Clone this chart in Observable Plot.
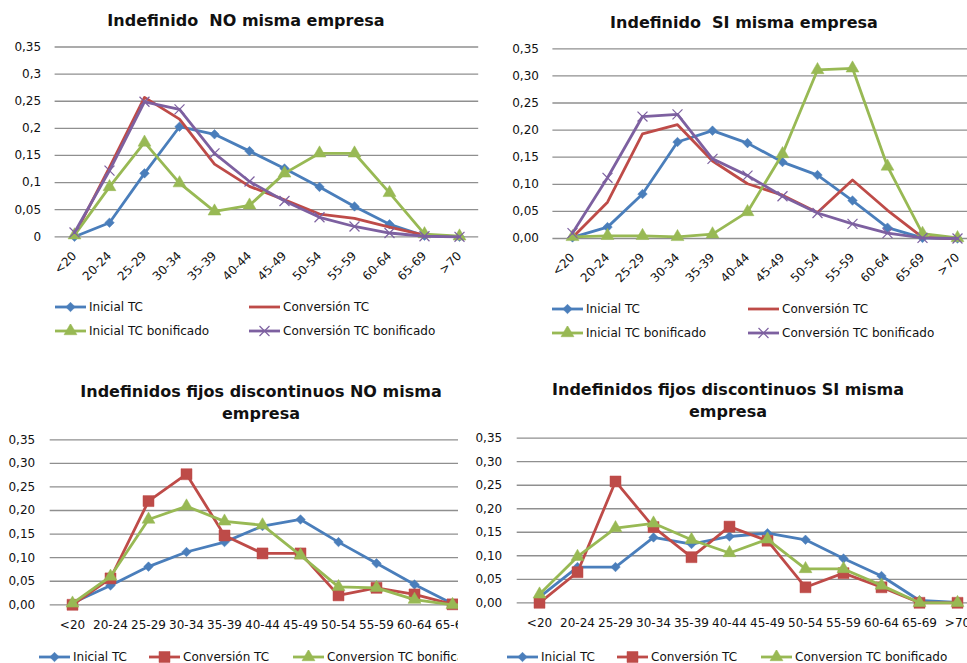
<!DOCTYPE html>
<html><head><meta charset="utf-8">
<script src="https://cdn.jsdelivr.net/npm/d3@7"></script>
<script src="https://cdn.jsdelivr.net/npm/@observablehq/plot@0.6"></script>
<style>
body{margin:0;background:#fff;font-family:"DejaVu Sans",Verdana,sans-serif;color:#111;}
#root{position:relative;width:967px;height:663px;overflow:hidden;background:#fff;}
.panel{position:absolute;overflow:hidden;}
.panel > svg{position:absolute;max-width:none !important;}
.title{position:absolute;font-weight:bold;font-size:16px;text-align:center;line-height:21.6px;white-space:nowrap;}
.leg{position:absolute;display:flex;align-items:center;height:14px;font-size:12px;white-space:nowrap;}
.leg svg{position:static;margin-right:3px;}
</style></head><body><div id="root"></div>
<script>
// ---------- data ----------
const ageGroups = ["<20","20-24","25-29","30-34","35-39","40-44","45-49","50-54","55-59","60-64","65-69",">70"];
const yTickValues = [0, 0.05, 0.10, 0.15, 0.20, 0.25, 0.30, 0.35];
const yTickLabelsGeneral = ["0","0,05","0,1","0,15","0,2","0,25","0,3","0,35"];
const yTickLabelsFixed = ["0,00","0,05","0,10","0,15","0,20","0,25","0,30","0,35"];

const titleP1 = "Indefinido\u00a0 NO misma empresa";
const titleP2 = "Indefinido\u00a0 SI misma empresa";
const titleP3 = ["Indefinidos fijos discontinuos NO misma", "empresa"];
const titleP4 = ["Indefinidos fijos discontinuos SI misma", "empresa"];

const namesTop = ["Inicial TC", "Conversión TC", "Inicial TC bonificado", "Conversión TC bonificado"];
const namesBottom = ["Inicial TC", "Conversión TC", "Conversion TC bonificado"];

// Indefinido NO misma empresa
const p1InicialTC       = [0.000, 0.026, 0.117, 0.203, 0.189, 0.158, 0.126, 0.092, 0.056, 0.023, 0.002, 0.000];
const p1ConversionTC    = [0.003, 0.128, 0.257, 0.217, 0.134, 0.093, 0.068, 0.042, 0.034, 0.018, 0.003, 0.000];
const p1InicialBonif    = [0.003, 0.092, 0.174, 0.099, 0.047, 0.058, 0.117, 0.154, 0.154, 0.081, 0.005, 0.001];
const p1ConversionBonif = [0.008, 0.122, 0.249, 0.235, 0.154, 0.102, 0.066, 0.036, 0.019, 0.007, 0.001, 0.000];

// Indefinido SI misma empresa
const p2InicialTC       = [0.002, 0.021, 0.082, 0.178, 0.199, 0.176, 0.141, 0.117, 0.070, 0.020, 0.001, 0.000];
const p2ConversionTC    = [0.002, 0.067, 0.193, 0.210, 0.143, 0.101, 0.080, 0.048, 0.108, 0.052, 0.002, 0.000];
const p2InicialBonif    = [0.003, 0.005, 0.005, 0.003, 0.008, 0.049, 0.156, 0.311, 0.314, 0.133, 0.009, 0.001];
const p2ConversionBonif = [0.010, 0.112, 0.225, 0.229, 0.147, 0.116, 0.078, 0.047, 0.027, 0.010, 0.001, 0.000];

// Indefinidos fijos discontinuos NO misma empresa
const p3InicialTC       = [0.004, 0.041, 0.081, 0.112, 0.133, 0.167, 0.181, 0.133, 0.088, 0.043, 0.002, 0.000];
const p3ConversionTC    = [0.000, 0.056, 0.220, 0.277, 0.147, 0.109, 0.109, 0.020, 0.036, 0.022, 0.001, 0.000];
const p3ConversionBonif = [0.003, 0.060, 0.181, 0.209, 0.177, 0.169, 0.105, 0.038, 0.036, 0.011, 0.000, 0.000];

// Indefinidos fijos discontinuos SI misma empresa
const p4InicialTC       = [0.012, 0.076, 0.076, 0.139, 0.125, 0.141, 0.148, 0.134, 0.094, 0.057, 0.005, 0.001];
const p4ConversionTC    = [0.000, 0.065, 0.258, 0.161, 0.097, 0.162, 0.132, 0.033, 0.063, 0.033, 0.000, 0.000];
const p4ConversionBonif = [0.018, 0.098, 0.159, 0.169, 0.134, 0.106, 0.135, 0.072, 0.072, 0.037, 0.000, 0.000];

// ---------- styles ----------
const BLUE = "#4A7EBB", RED = "#BE4B48", GREEN = "#98B954", PURPLE = "#7D60A0";
const stBlue   = {color: BLUE, symbol: "diamond2", r: 4.3};
const stRedTop = {color: RED, symbol: null};
const stRedSq  = {color: RED, symbol: "square", r: 6.2};
const stGreen  = {color: GREEN, symbol: "triangle", r: 4.8};
const stPurple = {color: PURPLE, symbol: "times", r: 4.6};
const GRID = "#8f8f8f";
const FONT = "'DejaVu Sans', Verdana, sans-serif";

const root = document.getElementById("root");

function makePanel(cfg) {
  const box = document.createElement("div");
  box.className = "panel";
  Object.assign(box.style, {left: cfg.box[0] + "px", top: cfg.box[1] + "px", width: cfg.box[2] + "px", height: cfg.box[3] + "px"});
  root.appendChild(box);

  // title
  const t = document.createElement("div");
  t.className = "title";
  t.innerHTML = [].concat(cfg.title).join("<br>");
  t.style.left = (cfg.titleCx - cfg.box[0] - 250) + "px";
  t.style.width = "500px";
  t.style.top = (cfg.titleTop - cfg.box[1]) + "px";
  box.appendChild(t);

  // plot
  const marks = [
    Plot.ruleY(yTickValues, {stroke: GRID, strokeWidth: 1.3}),
    Plot.axisY({ticks: yTickValues, tickFormat: d => cfg.yLabels[Math.round(d * 20)], tickSize: 0, tickPadding: cfg.padY, label: null}),
    Plot.axisX({tickSize: 0, tickRotate: cfg.rotate, tickPadding: cfg.padX, label: null})
  ];
  cfg.series.forEach(s => {
    const rows = s.values.map((v, i) => ({age: ageGroups[i], value: v}));
    marks.push(Plot.line(rows, {x: "age", y: "value", stroke: s.style.color, strokeWidth: 2.8, strokeLinejoin: "round"}));
    if (s.style.symbol) {
      const isStroke = s.style.symbol === "times";
      marks.push(Plot.dot(rows, {
        x: "age", y: "value", symbol: s.style.symbol, r: s.style.r,
        fill: isStroke ? "none" : s.style.color,
        stroke: s.style.color, strokeWidth: isStroke ? 1.2 : 0.5
      }));
    }
  });
  const svg = Plot.plot({
    width: cfg.width, height: cfg.height,
    marginLeft: cfg.m[0], marginRight: cfg.m[1], marginTop: cfg.m[2], marginBottom: cfg.m[3],
    x: {type: "point", domain: ageGroups, padding: 0.5, label: null},
    y: {domain: [0, 0.35], label: null},
    style: {fontSize: "12px", fontFamily: FONT, color: "#111", background: "transparent", overflow: "visible", maxWidth: "none"},
    marks
  });
  svg.style.left = (cfg.svgPos[0] - cfg.box[0]) + "px";
  svg.style.top = (cfg.svgPos[1] - cfg.box[1]) + "px";
  svg.style.maxWidth = "none";
  svg.style.width = cfg.width + "px";
  svg.style.height = cfg.height + "px";
  box.appendChild(svg);

  // legend
  cfg.legend.forEach(([x, y, name, style]) => {
    const item = document.createElement("div");
    item.className = "leg";
    item.style.left = (x - cfg.box[0]) + "px";
    item.style.top = (y - 7 - cfg.box[1]) + "px";
    const sw = d3.create("svg").attr("width", 31).attr("height", 14);
    sw.append("line").attr("x1", 0).attr("x2", 31).attr("y1", 7).attr("y2", 7)
      .attr("stroke", style.color).attr("stroke-width", 2.8);
    if (style.symbol) {
      const symMap = {diamond2: d3.symbolDiamond2, square: d3.symbolSquare, triangle: d3.symbolTriangle, times: d3.symbolTimes};
      const isStroke = style.symbol === "times";
      sw.append("path").attr("transform", "translate(15.5,7)")
        .attr("d", d3.symbol(symMap[style.symbol], Math.PI * style.r * style.r)())
        .attr("fill", isStroke ? "none" : style.color)
        .attr("stroke", style.color).attr("stroke-width", isStroke ? 1.2 : 0.5);
    }
    item.appendChild(sw.node());
    const span = document.createElement("span");
    span.textContent = name;
    item.appendChild(span);
    box.appendChild(item);
  });
}

// Panel 1
makePanel({
  box: [0, 0, 486, 350], title: titleP1, titleCx: 246, titleTop: 10,
  svgPos: [0, 35], width: 483, height: 250, m: [54.6, 4.8, 11.5, 48.7],
  yLabels: yTickLabelsGeneral, padY: 14, rotate: -45, padX: 17,
  series: [
    {values: p1InicialTC, style: stBlue},
    {values: p1ConversionTC, style: stRedTop},
    {values: p1InicialBonif, style: stGreen},
    {values: p1ConversionBonif, style: stPurple}
  ],
  legend: [
    [55, 307, namesTop[0], stBlue], [249, 307, namesTop[1], stRedTop],
    [55, 331, namesTop[2], stGreen], [249, 331, namesTop[3], stPurple]
  ]
});

// Panel 2
makePanel({
  box: [486, 0, 481, 350], title: titleP2, titleCx: 744, titleTop: 11.5,
  svgPos: [486, 35], width: 495, height: 250, m: [66.4, 5, 13.3, 47],
  yLabels: yTickLabelsFixed, padY: 14, rotate: -45, padX: 17,
  series: [
    {values: p2InicialTC, style: stBlue},
    {values: p2ConversionTC, style: stRedTop},
    {values: p2InicialBonif, style: stGreen},
    {values: p2ConversionBonif, style: stPurple}
  ],
  legend: [
    [552, 309, namesTop[0], stBlue], [748, 309, namesTop[1], stRedTop],
    [552, 333, namesTop[2], stGreen], [748, 333, namesTop[3], stPurple]
  ]
});

// Panel 3
makePanel({
  box: [0, 370, 458, 293], title: titleP3, titleCx: 261, titleTop: 381,
  svgPos: [0, 425], width: 518, height: 215, m: [49.7, 5, 14.3, 35.7],
  yLabels: yTickLabelsFixed, padY: 15, rotate: 0, padX: 16,
  series: [
    {values: p3InicialTC, style: stBlue},
    {values: p3ConversionTC, style: stRedSq},
    {values: p3ConversionBonif, style: stGreen}
  ],
  legend: [
    [39, 657, namesBottom[0], stBlue], [149, 657, namesBottom[1], stRedSq], [293, 657, namesBottom[2], stGreen]
  ]
});

// Panel 4
makePanel({
  box: [458, 370, 509, 293], title: titleP4, titleCx: 728, titleTop: 379,
  svgPos: [458, 425], width: 527, height: 215, m: [58.7, 5, 12.7, 37.7],
  yLabels: yTickLabelsFixed, padY: 15, rotate: 0, padX: 16,
  series: [
    {values: p4InicialTC, style: stBlue},
    {values: p4ConversionTC, style: stRedSq},
    {values: p4ConversionBonif, style: stGreen}
  ],
  legend: [
    [507, 657, namesBottom[0], stBlue], [617, 657, namesBottom[1], stRedSq], [761, 657, namesBottom[2], stGreen]
  ]
});
</script></body></html>
